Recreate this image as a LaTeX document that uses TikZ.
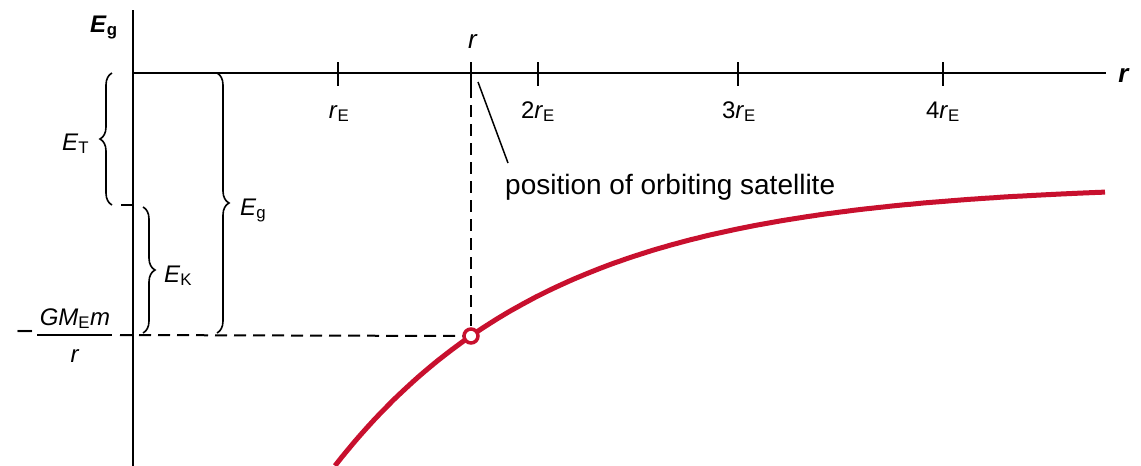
\documentclass[tikz,border=0pt]{standalone}
\usepackage{fontspec}
\setmainfont{Liberation Sans}
\usetikzlibrary{decorations.pathreplacing}
\definecolor{curvered}{HTML}{C8102E}
\begin{document}
\begin{tikzpicture}[x=1pt,y=-1pt,
  axis/.style={line width=2.6pt},
  tickln/.style={line width=2pt},
  guide/.style={line width=2pt, dash pattern=on 12pt off 7pt},
  bracestyle/.style={line width=1.6pt, decorate, decoration={brace, amplitude=12pt}},
  lab/.style={font=\fontsize{24}{28}\selectfont, inner sep=0pt},
  biglab/.style={font=\fontsize{26}{30}\selectfont, inner sep=0pt},
  captext/.style={font=\fontsize{28}{32}\selectfont, inner sep=0pt},
  curve/.style={draw=curvered, line width=5pt},
]
\useasboundingbox (0,0) rectangle (1141,466);

% axes
\coordinate (O) at (133,73);
\coordinate (ytop) at (133,10);
\coordinate (ybot) at (133,466);
\coordinate (xend) at (1106,73);
\draw[axis] (ytop) -- (ybot);
\draw[axis] (O) -- (xend);

% ticks
\foreach \xx in {338,471,538,738,943} \draw[tickln] (\xx,62) -- (\xx,86);
\draw[tickln] (121,205) -- (133,205);

% curve
\draw[curve] plot[domain=335:1105, samples=120] (\x, {183.5+1288*exp(-0.00453*\x)});

% satellite position
\node[circle, draw=curvered, fill=white, line width=3.5pt, minimum size=14pt, inner sep=0pt] (P) at (471,336) {};
\coordinate (tickr) at (471,86);
\coordinate (leftend) at (120,335);
\draw[guide] (tickr) -- (P.north);
\draw[guide] (leftend) -- (P.west);

% callout
\node[captext, anchor=base west] (cap) at (505,194) {position of orbiting satellite};
\coordinate (c1) at (478,82);
\coordinate (c2) at (508,163);
\draw[line width=1.5pt] (c1) -- (c2);

% axis labels
\node[lab, anchor=base west] (Eg) at (90,32) {\textbf{\textit{E}}\textsubscript{\textbf{g}}};
\node[biglab, anchor=base] (raxis) at (1124,82) {\textbf{\textit{r}}};
\node[biglab, anchor=base] (rtop) at (473,48) {\textit{r}};
\node[lab, anchor=base] (rE1) at (339,118) {\textit{r}\textsubscript{E}};
\node[lab, anchor=base] (rE2) at (538,118) {2\textit{r}\textsubscript{E}};
\node[lab, anchor=base] (rE3) at (739,118) {3\textit{r}\textsubscript{E}};
\node[lab, anchor=base] (rE4) at (943,118) {4\textit{r}\textsubscript{E}};

% braces
\draw[bracestyle] (112,205) -- (112,73);
\draw[bracestyle] (143,207) -- (143,333);
\draw[bracestyle] (217,73) -- (217,333);
\node[lab, anchor=base west] (ET) at (62,150) {\textit{E}\textsubscript{T}};
\node[lab, anchor=base west] (EK) at (164,282) {\textit{E}\textsubscript{K}};
\node[lab, anchor=base west] (Eg2) at (240,215) {\textit{E}\textsubscript{g}};

% fraction
\node[lab, anchor=base] (num) at (75,325) {\textit{GM}\textsubscript{E}\textit{m}};
\node[lab, anchor=base] (den) at (75,362) {\textit{r}};
\coordinate (barL) at (37,335);
\coordinate (barR) at (112,335);
\draw[line width=1.6pt] (barL) -- (barR);
\node[font=\fontsize{30}{34}\selectfont, inner sep=0pt] (minus) at (25,336) {−};
\end{tikzpicture}
\end{document}
